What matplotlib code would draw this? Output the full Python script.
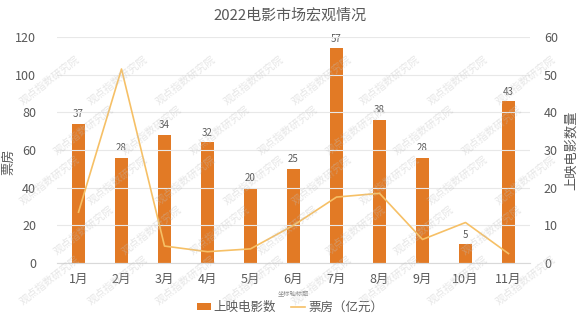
import matplotlib.pyplot as plt
import numpy as np

plt.rcParams['font.family'] = ['Noto Sans CJK SC', 'DejaVu Sans']

months = ['1月', '2月', '3月', '4月', '5月', '6月', '7月', '8月', '9月', '10月', '11月']
films = [37, 28, 34, 32, 20, 25, 57, 38, 28, 5, 43]
box_office = [27, 103, 9, 6, 7.5, 20, 35, 37, 12.5, 21.5, 5]

bar_color = '#E27A25'
line_color = '#F6C066'
text_color = '#595959'

fig = plt.figure(figsize=(5.8, 3.26), dpi=100)
ax = fig.add_axes([57 / 580, 1 - 263 / 326, 473 / 580, 226 / 326])
ax2 = ax.twinx()

x = np.arange(len(months))
ax2.bar(x, films, width=0.31, color=bar_color, label='上映电影数', zorder=2)
for xi, v in zip(x, films):
    ax2.text(xi, v + 1.2, str(v), ha='center', va='bottom', fontsize=7, color=text_color)

ax.plot(x, box_office, color=line_color, linewidth=1.2, label='票房（亿元）', zorder=3)
ax.set_zorder(ax2.get_zorder() + 1)
ax.patch.set_visible(False)

ax.set_xlim(-0.5, len(months) - 0.5)
ax.set_ylim(0, 120)
ax2.set_ylim(0, 60)
ax.set_yticks(range(0, 121, 20))
ax2.set_yticks(range(0, 61, 10))
ax.set_xticks(x)
ax.set_xticklabels(months)

ax.grid(axis='y', color='#E8E8E8', linewidth=0.8)
for a in (ax, ax2):
    for s in a.spines.values():
        s.set_visible(False)
    a.tick_params(length=0, colors=text_color, labelsize=9)
ax.tick_params(axis='y', pad=15)
ax2.tick_params(axis='y', pad=10)
ax.tick_params(axis='x', pad=7)
ax2.spines['bottom'].set_visible(True)
ax2.spines['bottom'].set_color('#D9D9D9')

ax.set_ylabel('票房', fontsize=9.5, color=text_color)
ax.yaxis.set_label_coords(-0.088, 0.45)
ax2.set_ylabel('上映电影数量', fontsize=9.5, color=text_color)
ax2.yaxis.set_label_coords(1.074, 0.5)

fig.text(0.5, 0.952, '2022电影市场宏观情况', ha='center', va='center', fontsize=10.8, color=text_color)
fig.text(293 / 580, 1 - 293 / 326, '坐标轴标题', ha='center', va='center', fontsize=4.5, color='#8C8C8C')

h1, l1 = ax2.get_legend_handles_labels()
h2, l2 = ax.get_legend_handles_labels()
fig.legend(h1 + h2, l1 + l2, loc='center', bbox_to_anchor=(0.5, 1 - 307 / 326), ncol=2, frameon=False,
           fontsize=9, labelcolor=text_color, handlelength=1.1, handleheight=0.5, columnspacing=1.2,
           handletextpad=0.25)

# faint diagonal watermark
for row in range(5):
    for col in range(8):
        px = 50 + col * 68 + (row % 2) * 34
        py = 80 + row * 50
        if px > 545:
            continue
        fig.text(px / 580, 1 - py / 326, '观点指数研究院', rotation=38, ha='center', va='center',
                 fontsize=7.5, color='#C0C0C0', alpha=0.4, zorder=10)

fig.savefig('out.png', dpi=100)
